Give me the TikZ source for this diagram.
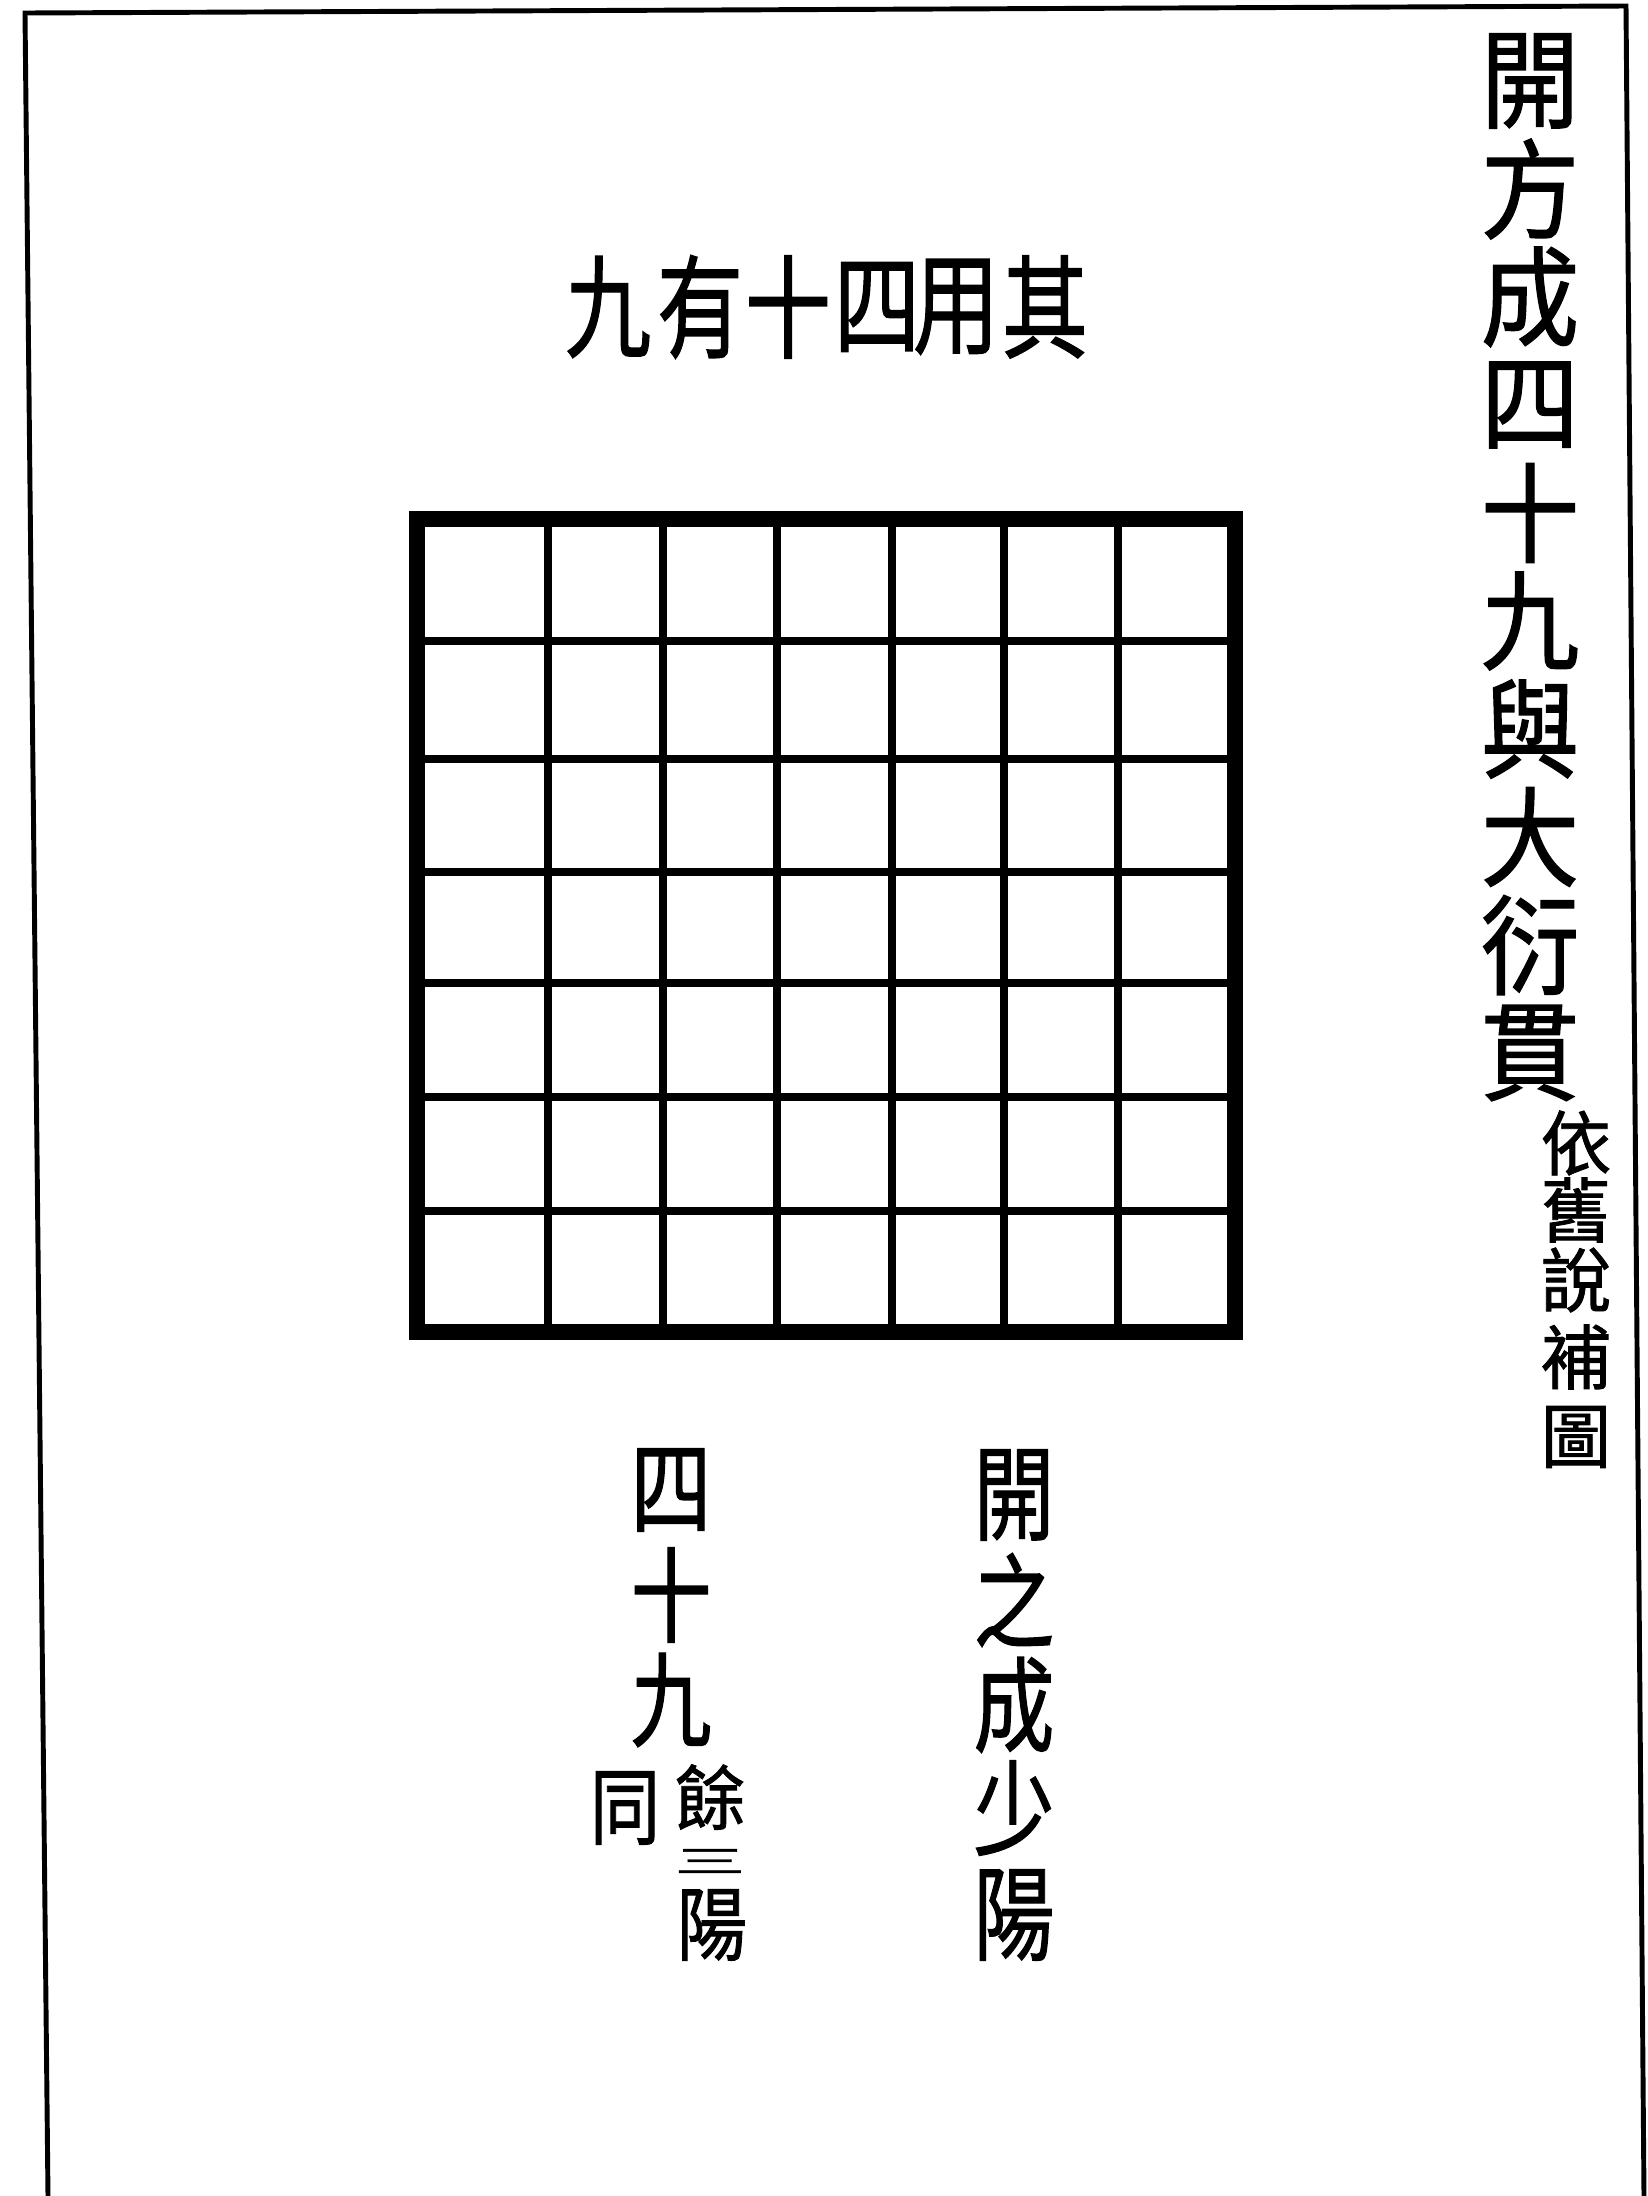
\documentclass[tikz,border=0pt]{standalone}
\usepackage{fontspec}
\newfontfamily\cjkfont{Noto Sans CJK TC}[FakeBold=1.2]
\newcommand{\tallglyph}[2][1.28]{\scalebox{1}[#1]{#2}}

\begin{document}
\begin{tikzpicture}[
  x=0.01cm, y=-0.01cm,
  titlechar/.style={inner sep=0pt, font=\cjkfont\fontsize{28}{28}\selectfont},
  notechar/.style={inner sep=0pt, font=\cjkfont\fontsize{20}{20}\selectfont},
  headchar/.style={inner sep=0pt, font=\cjkfont\fontsize{24.5}{24.5}\selectfont},
  bigchar/.style={inner sep=0pt, font=\cjkfont\fontsize{23}{23}\selectfont},
  smallchar/.style={inner sep=0pt, font=\cjkfont\fontsize{20}{20}\selectfont},
  gridline/.style={line width=2.3pt},
  gridframe/.style={line width=4.8pt, line join=miter}
]
\useasboundingbox (0,0) rectangle (1647,2196);

% Page frame, open at the bottom
\draw[line width=1.4pt] (48,2196) -- (25,13) -- (1626,6) -- (1644,2196);

% Title column on the right
\foreach \c [count=\i] in {開,方,成,四,十,九,與,大,衍,貫}{
  \node[titlechar] (T\i) at (1530, {81+(\i-1)*108}) {\tallglyph[1.1]{\c}};
}

% Small note under the title
\foreach \i/\c/\y in {1/依/1143, 2/舊/1210, 3/說/1280, 4/補/1357, 5/圖/1437}{
  \node[notechar] (N\i) at (1576, \y) {\c};
}

% Heading above the grid
\foreach \i/\c/\x in {1/九/608, 2/有/700, 3/十/788, 4/四/877, 5/用/956, 6/其/1045}{
  \node[headchar] (H\i) at (\x, 307) {\tallglyph[1.3]{\c}};
}

% Grid of 7 x 7 cells - measured positions
\foreach \x in {548, 663, 777, 892, 1004, 1118}{
  \draw[gridline] (\x, 519) -- (\x, 1332);
}
\foreach \y in {641, 759, 872, 983, 1097, 1211}{
  \draw[gridline] (417, \y) -- (1235, \y);
}
\draw[gridframe] (417, 519) rectangle (1235, 1332);

% Right column below the grid
\foreach \i/\c/\y in {1/開/1495, 2/之/1600, 3/成/1705, 4/少/1808, 5/陽/1915}{
  \node[bigchar] (R\i) at (1014, \y) {\tallglyph{\c}};
}

% Left column below the grid
\foreach \i/\c/\y in {1/四/1490, 2/十/1595, 3/九/1700}{
  \node[bigchar] (L\i) at (671, \y) {\tallglyph{\c}};
}

% Small double column under it
\node[smallchar] (S1) at (625, 1808) {\tallglyph[1.2]{同}};
\node[smallchar] (S2) at (710, 1797) {餘};
\node[smallchar] (S3) at (710, 1861) {\scalebox{1}[0.45]{三}};
\node[smallchar] (S4) at (712, 1925) {\tallglyph[1.15]{陽}};

\end{tikzpicture}
\end{document}
